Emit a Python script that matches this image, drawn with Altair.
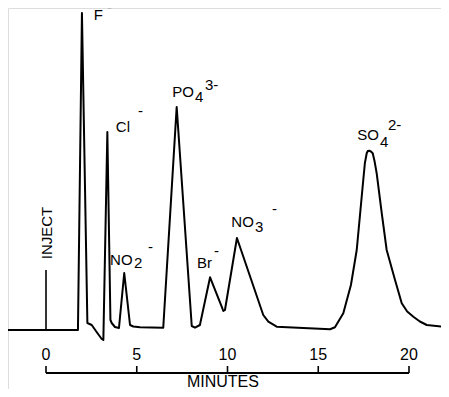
import altair as alt
import pandas as pd

# Chromatogram trace (minutes, detector signal in arbitrary units)
trace_time = [-2.53, 1.76, 1.98, 2.28, 2.52, 2.79, 3.07, 3.16, 3.38, 3.55, 3.62, 3.80,
              4.02, 4.31, 4.63, 4.81, 5.18, 6.46, 7.20, 8.03, 8.21, 8.48, 9.04, 9.68,
              9.77, 9.86, 10.52, 11.97, 12.25, 12.71, 15.65, 15.92, 16.38, 16.80, 17.12,
              17.48, 17.57, 17.67, 17.73, 17.81, 17.90, 18.00, 18.10, 18.22, 18.50, 18.77,
              19.23, 19.60, 19.90, 20.24, 20.60, 20.98, 22.20]
trace_signal = [0, 0, 317, 7, 5, -2, -9, -10, 198, 10, 7, 3,
                2, 57, 5, 3.5, 2.7, 2.3, 223, 4, 2.3, 5, 52.7, 23.3,
                19, 20, 92, 15, 8.3, 3.3, 0.7, 2.7, 16.7, 45, 80,
                150, 167, 176.7, 179, 179.3, 178.5, 176.7, 169, 156.7, 116.7, 80,
                50, 26.7, 18.5, 13.3, 8.5, 5, 2.7]

# Peak labels: main text (right edge), and sub/superscripts (left edge)
main_text = ["F", "Cl", "PO", "NO", "Br", "NO", "SO"]
main_time = [3.14, 4.63, 8.15, 4.77, 9.15, 11.45, 18.35]
main_signal = [310, 198, 233, 65, 62, 103, 190]

small_text = ["-", "-", "4", "3-", "2", "-", "-", "3", "-", "4", "2-"]
small_time = [3.36, 5.07, 8.21, 8.76, 4.85, 5.62, 9.26, 11.52, 12.45, 18.40, 18.84]
small_signal = [318, 214, 228, 240, 62, 78, 74, 98, 116, 183, 200]

tick_values = [0, 5, 10, 15, 20]
tick_labels = ["0", "5", "10", "15", "20"]
axis_start, axis_end = 0, 20
axis_level = -43
tick_top = -36
tick_label_level = -30
inject_time, inject_height = 0, 60
inject_label_time, inject_label_signal = 0.055, 97
xlabel_time, xlabel_signal = 9.75, -56.5

FONT = "Liberation Sans"

xs = alt.Scale(domain=[-2.0937, 21.763], nice=False, zero=False)
ys = alt.Scale(domain=[-59, 322], nice=False, zero=False)

trace = pd.DataFrame({"t": trace_time, "v": trace_signal})
mains = pd.DataFrame({"text": main_text, "t": main_time, "v": main_signal})
smalls = pd.DataFrame({"text": small_text, "t": small_time, "v": small_signal})
ticks = pd.DataFrame({"t": tick_values, "lab": tick_labels,
                      "y0": [axis_level] * 5, "y1": [tick_top] * 5,
                      "ly": [tick_label_level] * 5})
axisdf = pd.DataFrame({"t0": [axis_start], "t1": [axis_end], "v": [axis_level]})
injdf = pd.DataFrame({"t": [inject_time], "v0": [0], "v1": [inject_height]})
injlab = pd.DataFrame({"t": [inject_label_time], "v": [inject_label_signal], "s": ["INJECT"]})
xlab = pd.DataFrame({"t": [xlabel_time], "v": [xlabel_signal], "s": ["MINUTES"]})

X = lambda f: alt.X(f, scale=xs, axis=None)
Y = lambda f: alt.Y(f, scale=ys, axis=None)

line = alt.Chart(trace).mark_line(color="black", strokeWidth=2, clip=True,
                                  strokeJoin="round").encode(x=X("t:Q"), y=Y("v:Q"), order="t:Q")
inj = alt.Chart(injdf).mark_rule(color="black", strokeWidth=1.6).encode(
    x=X("t:Q"), y=Y("v0:Q"), y2="v1:Q")
axl = alt.Chart(axisdf).mark_rule(color="black", strokeWidth=1.8).encode(
    x=X("t0:Q"), x2="t1:Q", y=Y("v:Q"))
tk = alt.Chart(ticks).mark_rule(color="black", strokeWidth=1.6).encode(
    x=X("t:Q"), y=Y("y0:Q"), y2="y1:Q")
tkl = alt.Chart(ticks).mark_text(font=FONT, fontSize=16, color="black",
                                 align="center", baseline="alphabetic").encode(
    x=X("t:Q"), y=Y("ly:Q"), text="lab:N")
mn = alt.Chart(mains).mark_text(font=FONT, fontSize=15, color="black",
                                align="right", baseline="alphabetic").encode(
    x=X("t:Q"), y=Y("v:Q"), text="text:N")
sm = alt.Chart(smalls).mark_text(font=FONT, fontSize=15, color="black",
                                 align="left", baseline="alphabetic").encode(
    x=X("t:Q"), y=Y("v:Q"), text="text:N")
il = alt.Chart(injlab).mark_text(font=FONT, fontSize=15, color="black",
                                 angle=270, align="center", baseline="middle").encode(
    x=X("t:Q"), y=Y("v:Q"), text="s:N")
xl = alt.Chart(xlab).mark_text(font=FONT, fontSize=16, color="black",
                               align="center", baseline="alphabetic").encode(
    x=X("t:Q"), y=Y("v:Q"), text="s:N")

chart = alt.layer(line, inj, axl, tk, tkl, mn, sm, il, xl).properties(
    width=433, height=381, padding=0,
    autosize=alt.AutoSizeParams(type="none"),
).configure_view(stroke=None).configure(background="white")

chart.save("out.html", embed_options={"renderer": "svg", "actions": False})
